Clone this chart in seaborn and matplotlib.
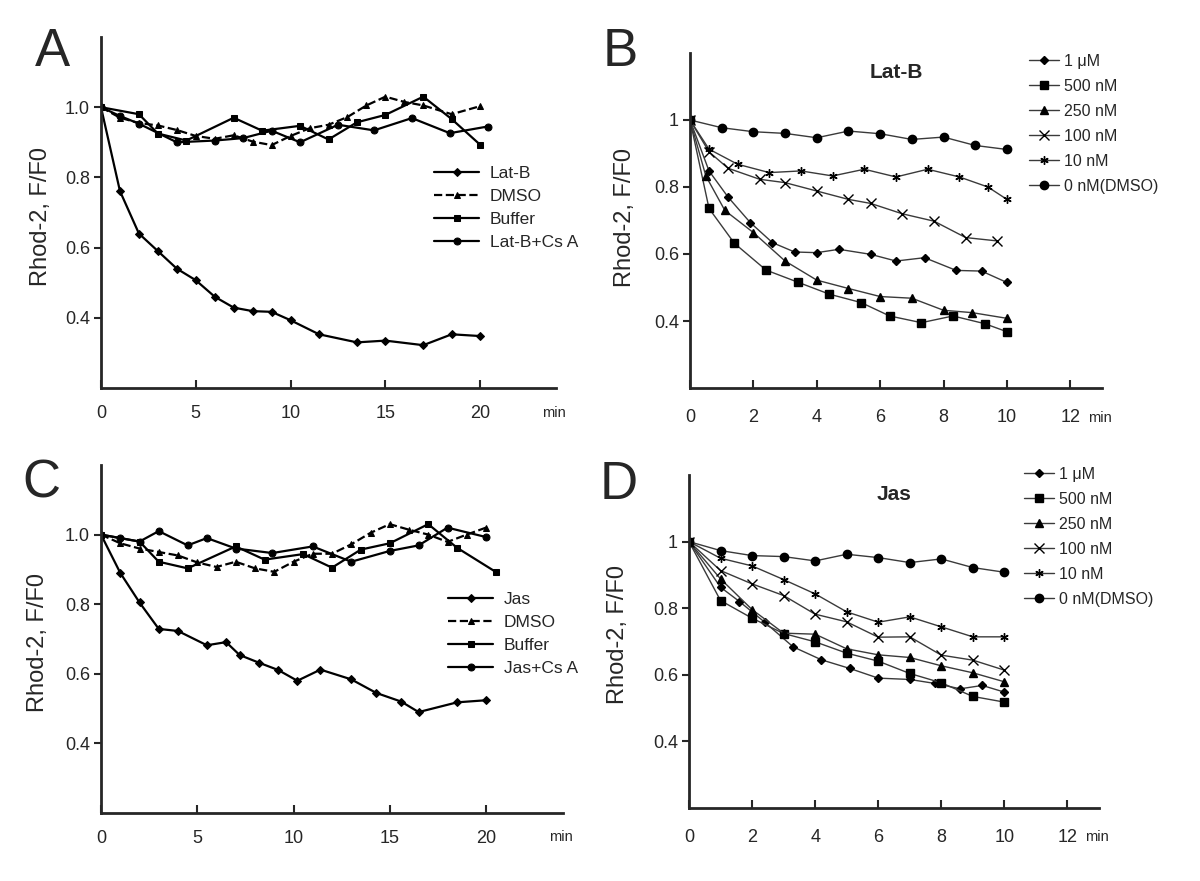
import matplotlib
matplotlib.use("Agg")
import matplotlib.pyplot as plt
import seaborn as sns

# ---- panel A : Lat-B time course (min, F/F0) ----
a_latb_x = [0, 1, 2, 3, 4, 5, 6, 7, 8, 9, 10, 11.5, 13.5, 15, 17, 18.5, 20]
a_latb_y = [1.0, 0.761, 0.640, 0.590, 0.540, 0.507, 0.460, 0.429, 0.419, 0.417, 0.393,
            0.353, 0.330, 0.335, 0.322, 0.353, 0.348]
a_dmso_x = [0, 1, 2, 3, 4, 5, 6, 7, 8, 9, 10, 11, 12, 13, 14, 15, 16, 17, 18.5, 20]
a_dmso_y = [1.0, 0.97, 0.955, 0.948, 0.935, 0.918, 0.91, 0.92, 0.902, 0.892, 0.918, 0.94,
            0.95, 0.972, 1.005, 1.03, 1.015, 1.005, 0.98, 1.003]
a_buf_x = [0, 2, 3, 4.5, 7, 8.5, 10.5, 12, 13.5, 15, 17, 18.5, 20]
a_buf_y = [1.0, 0.98, 0.925, 0.905, 0.97, 0.933, 0.947, 0.908, 0.957, 0.978, 1.03, 0.966, 0.893]
a_csa_x = [0, 1, 2, 4, 6, 7.5, 9, 10.5, 12.5, 14.4, 16.4, 18.4, 20.4]
a_csa_y = [1.0, 0.975, 0.953, 0.9, 0.905, 0.912, 0.933, 0.9, 0.95, 0.934, 0.969, 0.926, 0.945]
a_labels = ["Lat-B", "DMSO", "Buffer", "Lat-B+Cs A"]

# ---- panel C : Jas time course ----
c_jas_x = [0, 1, 2, 3, 4, 5.5, 6.5, 7.2, 8.2, 9.2, 10.2, 11.4, 13, 14.3, 15.6, 16.5, 18.5, 20]
c_jas_y = [1.0, 0.89, 0.805, 0.729, 0.723, 0.682, 0.691, 0.654, 0.632, 0.611, 0.58, 0.612,
           0.584, 0.545, 0.52, 0.49, 0.518, 0.524]
c_dmso_x = [0, 1, 2, 3, 4, 5, 6, 7, 8, 9, 10, 11, 12, 13, 14, 15, 16, 17, 18, 19, 20]
c_dmso_y = [1.0, 0.975, 0.96, 0.95, 0.94, 0.92, 0.907, 0.922, 0.903, 0.893, 0.922, 0.945,
            0.945, 0.972, 1.005, 1.03, 1.014, 1.0, 0.979, 1.0, 1.02]
c_buf_x = [0, 2, 3, 4.5, 7, 8.5, 10.5, 12, 13.5, 15, 17, 18.5, 20.5]
c_buf_y = [1.0, 0.98, 0.922, 0.903, 0.966, 0.928, 0.944, 0.905, 0.957, 0.975, 1.03, 0.962, 0.893]
c_csa_x = [0, 1, 2, 3, 4.5, 5.5, 7, 8.9, 11, 13, 15, 16.5, 18, 20]
c_csa_y = [1.0, 0.99, 0.98, 1.01, 0.969, 0.99, 0.96, 0.947, 0.966, 0.922, 0.953, 0.969, 1.02, 0.993]
c_labels = ["Jas", "DMSO", "Buffer", "Jas+Cs A"]

# ---- panel B : Lat-B dose series ----
dose_labels = ["1 \u03bcM", "500 nM", "250 nM", "100 nM", "10 nM", "0 nM(DMSO)"]
b_1um_x = [0, 0.6, 1.2, 1.9, 2.6, 3.3, 4, 4.7, 5.7, 6.5, 7.4, 8.4, 9.2, 10]
b_1um_y = [1, 0.848, 0.77, 0.694, 0.634, 0.606, 0.604, 0.614, 0.599, 0.579, 0.589, 0.551, 0.549, 0.515]
b_500_x = [0, 0.6, 1.4, 2.4, 3.4, 4.4, 5.4, 6.3, 7.3, 8.3, 9.3, 10]
b_500_y = [1, 0.736, 0.632, 0.552, 0.516, 0.48, 0.455, 0.415, 0.395, 0.415, 0.392, 0.368]
b_250_x = [0, 0.5, 1.1, 2, 3, 4, 5, 6, 7, 8, 8.9, 10]
b_250_y = [1, 0.833, 0.73, 0.664, 0.579, 0.522, 0.497, 0.473, 0.468, 0.432, 0.425, 0.408]
b_100_x = [0, 0.6, 1.2, 2.2, 3, 4, 5, 5.7, 6.7, 7.7, 8.7, 9.7]
b_100_y = [1, 0.905, 0.856, 0.823, 0.813, 0.788, 0.763, 0.751, 0.72, 0.698, 0.649, 0.639]
b_10_x = [0, 0.6, 1.5, 2.5, 3.5, 4.5, 5.5, 6.5, 7.5, 8.5, 9.4, 10]
b_10_y = [1, 0.913, 0.868, 0.843, 0.848, 0.833, 0.853, 0.83, 0.853, 0.83, 0.8, 0.763]
b_0_x = [0, 1, 2, 3, 4, 5, 6, 7, 8, 9, 10]
b_0_y = [1, 0.977, 0.965, 0.96, 0.947, 0.967, 0.959, 0.942, 0.949, 0.924, 0.912]

# ---- panel D : Jas dose series ----
d_1um_x = [0, 1, 1.6, 2.4, 3.3, 4.2, 5.1, 6, 7, 7.8, 8.6, 9.3, 10]
d_1um_y = [1, 0.863, 0.82, 0.758, 0.684, 0.645, 0.619, 0.59, 0.586, 0.574, 0.558, 0.568, 0.548]
d_x = [0, 1, 2, 3, 4, 5, 6, 7, 8, 9, 10]
d_500_y = [1, 0.823, 0.77, 0.724, 0.699, 0.665, 0.641, 0.604, 0.576, 0.535, 0.518]
d_250_y = [1, 0.888, 0.796, 0.725, 0.722, 0.678, 0.66, 0.652, 0.627, 0.606, 0.579]
d_100_y = [1, 0.913, 0.873, 0.838, 0.782, 0.759, 0.713, 0.714, 0.659, 0.644, 0.614]
d_10_y = [1, 0.95, 0.927, 0.886, 0.843, 0.789, 0.758, 0.774, 0.744, 0.714, 0.714]
d_0_y = [1, 0.973, 0.958, 0.955, 0.942, 0.962, 0.952, 0.937, 0.948, 0.922, 0.908]

sns.set_style("ticks")
plt.rcParams["font.family"] = ["Liberation Sans", "DejaVu Sans"]

W, H = 1200, 881
fig = plt.figure(figsize=(W / 100, H / 100), dpi=100)


def make_axes(left, right, top, bottom):
    return fig.add_axes([left / W, 1 - bottom / H, (right - left) / W, (bottom - top) / H])


def style_axes(ax, xmax, xticks, yfmt, ylab_x, ylab_y, xpad):
    sns.despine(ax=ax)
    ax.spines["left"].set_linewidth(2)
    ax.spines["bottom"].set_linewidth(2)
    ax.set_xlim(0, xmax)
    ax.set_ylim(0.2, 1.2)
    ax.set_xticks(xticks)
    ax.set_yticks([0.4, 0.6, 0.8, 1.0])
    ax.set_yticklabels([yfmt(v) for v in [0.4, 0.6, 0.8, 1.0]])
    ax.tick_params(axis="x", direction="in", length=6, width=1.5, pad=xpad, labelsize=13)
    ax.tick_params(axis="y", direction="out", length=5, width=1.5, pad=3, labelsize=13)
    ax.set_xlabel("")
    ax.set_ylabel("Rhod-2, F/F0", fontsize=17)
    ax.yaxis.set_label_coords(ylab_x, ylab_y)


def time_panel(ax, series, labels, leg_anchor):
    markers = ["D", "^", "s", "o"]
    styles = ["-", "--", "-", "-"]
    sizes = [4, 5, 4, 5]
    for (x, y), lab, m, ls, ms in zip(series, labels, markers, styles, sizes):
        sns.lineplot(x=x, y=y, ax=ax, color="black", marker=m, markersize=ms,
                     markeredgecolor="black", linestyle=ls, linewidth=1.6, label=lab)
    ax.legend(loc="upper left", bbox_to_anchor=leg_anchor, bbox_transform=fig.transFigure,
              frameon=False, fontsize=12.5, handlelength=2.6, handletextpad=0.6,
              labelspacing=0.45, borderpad=0, borderaxespad=0)


def dose_panel(ax, series, leg_anchor, title):
    markers = ["D", "s", "^", "x", (6, 2, 0), "o"]
    sizes = [4.5, 5.5, 5.5, 6.5, 6, 6]
    for (x, y), lab, m, ms in zip(series, dose_labels, markers, sizes):
        sns.lineplot(x=x, y=y, ax=ax, color="#3a3a3a", marker=m, markersize=ms,
                     markerfacecolor="black", markeredgecolor="black", markeredgewidth=1.0,
                     linewidth=1.0, label=lab)
    ax.legend(loc="upper left", bbox_to_anchor=leg_anchor, bbox_transform=fig.transFigure,
              frameon=False, fontsize=11.5, handlelength=1.9, handletextpad=0.3,
              labelspacing=0.62, borderpad=0, borderaxespad=0)
    ax.set_title(title, fontsize=15, fontweight="bold", y=0.9)


axA = make_axes(101, 556, 37, 388)
time_panel(axA, [(a_latb_x, a_latb_y), (a_dmso_x, a_dmso_y), (a_buf_x, a_buf_y),
                 (a_csa_x, a_csa_y)], a_labels, (434 / W, 1 - 166 / H))
style_axes(axA, 24, [0, 5, 10, 15, 20], lambda v: f"{v:.1f}", -0.108, 0.49, 12)

axB = make_axes(690, 1102, 53, 388)
dose_panel(axB, [(b_1um_x, b_1um_y), (b_500_x, b_500_y), (b_250_x, b_250_y),
                 (b_100_x, b_100_y), (b_10_x, b_10_y), (b_0_x, b_0_y)],
           (1029 / W, 1 - 54 / H), "Lat-B")
style_axes(axB, 13, [0, 2, 4, 6, 8, 10, 12], lambda v: f"{v:g}", -0.131, 0.51, 15)

axC = make_axes(101, 563, 465, 813)
time_panel(axC, [(c_jas_x, c_jas_y), (c_dmso_x, c_dmso_y), (c_buf_x, c_buf_y),
                 (c_csa_x, c_csa_y)], c_labels, (448 / W, 1 - 592 / H))
style_axes(axC, 24, [0, 5, 10, 15, 20], lambda v: f"{v:.1f}", -0.113, 0.49, 12)

axD = make_axes(689, 1099, 475, 808)
dose_panel(axD, [(d_1um_x, d_1um_y), (d_x, d_500_y), (d_x, d_250_y), (d_x, d_100_y),
                 (d_x, d_10_y), (d_x, d_0_y)], (1024 / W, 1 - 467 / H), "Jas")
style_axes(axD, 13, [0, 2, 4, 6, 8, 10, 12], lambda v: f"{v:g}", -0.146, 0.52, 15)

for ax, yoff in [(axA, -0.072), (axB, -0.09), (axC, -0.07), (axD, -0.088)]:
    ax.text(0.995, yoff, "min", transform=ax.transAxes, ha="center", va="center", fontsize=10.5)

for lab, x, y in [("A", 35, 27), ("B", 603, 27), ("C", 22, 458), ("D", 600, 460)]:
    fig.text(x / W, 1 - y / H, lab, fontsize=38, ha="left", va="top")

fig.savefig("out.png", dpi=100, facecolor="white")
